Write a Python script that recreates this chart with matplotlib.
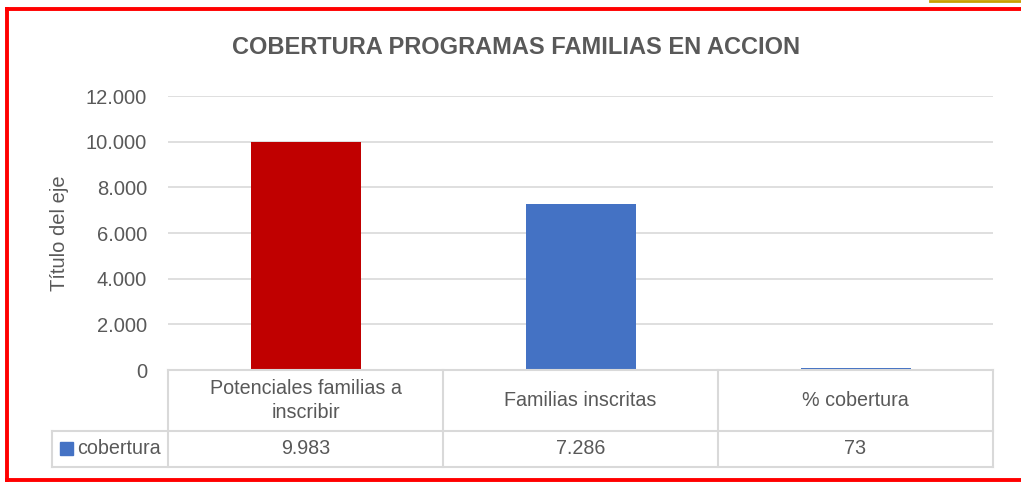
import matplotlib
matplotlib.use("Agg")
import matplotlib.pyplot as plt
from matplotlib.ticker import FuncFormatter
from matplotlib.lines import Line2D
from matplotlib.patches import Rectangle

# datos
categorias = ["Potenciales familias a\ninscribir", "Familias inscritas", "% cobertura"]
valores = [9983, 7286, 73]
etiquetas_valor = ["9.983", "7.286", "73"]
colores = ["#c00000", "#4472c4", "#4472c4"]
serie = "cobertura"
titulo = "COBERTURA PROGRAMAS FAMILIAS EN ACCION"

plt.rcParams["font.family"] = ["Liberation Sans", "DejaVu Sans"]

W, H = 1021, 487
fig = plt.figure(figsize=(W / 100, H / 100), dpi=100)
gris = "#595959"
linea = "#d9d9d9"

def fx(px):
    return px / W

def fy(py):
    return 1 - py / H

# area del grafico
x0, x1, ytop, ybot = 168, 993, 96, 370
ax = fig.add_axes([fx(x0), fy(ybot), fx(x1) - fx(x0), fy(ytop) - fy(ybot)])
pos = list(range(len(categorias)))
ax.bar(pos, valores, width=0.4, color=colores, zorder=3)
ax.set_xlim(-0.5, len(categorias) - 0.5)
ax.set_ylim(0, 12000)
ax.set_yticks(range(0, 12001, 2000))
ax.yaxis.set_major_formatter(FuncFormatter(lambda v, p: f"{int(v):,}".replace(",", ".")))
ax.tick_params(axis="y", length=0, pad=15, labelsize=14.5, labelcolor=gris)
ax.set_xticks([])
ax.grid(axis="y", color=linea, linewidth=1.2, zorder=0)
for s in ax.spines.values():
    s.set_visible(False)
ax.set_ylabel("Título del eje", fontsize=14.5, color=gris, labelpad=12)

fig.text(fx(516), fy(47), titulo, ha="center", va="center", fontsize=17,
         fontweight="bold", color=gris)

# tabla de datos
yh0, yh1, yv1 = 370, 431, 467
xl = 52
ancho = (x1 - x0) / len(categorias)
kw = dict(color=linea, linewidth=1.5, transform=fig.transFigure)
fig.add_artist(Line2D([fx(x0), fx(x1)], [fy(yh0), fy(yh0)], **kw))
fig.add_artist(Line2D([fx(xl), fx(x1)], [fy(yh1), fy(yh1)], **kw))
fig.add_artist(Line2D([fx(xl), fx(x1)], [fy(yv1), fy(yv1)], **kw))
fig.add_artist(Line2D([fx(xl), fx(xl)], [fy(yh1), fy(yv1)], **kw))
for i in range(len(categorias) + 1):
    xv = x0 + i * ancho
    fig.add_artist(Line2D([fx(xv), fx(xv)], [fy(yh0), fy(yv1)], **kw))
for i, (c, v) in enumerate(zip(categorias, etiquetas_valor)):
    xc = x0 + (i + 0.5) * ancho
    fig.text(fx(xc), fy((yh0 + yh1) / 2), c, ha="center", va="center",
             fontsize=14.2, color=gris, linespacing=1.35)
    fig.text(fx(xc), fy((yh1 + yv1) / 2), v, ha="center", va="center",
             fontsize=14.2, color=gris)
fig.add_artist(Rectangle((fx(60), fy(455)), fx(13), fy(442) - fy(455),
                         color=colores[1], transform=fig.transFigure))
fig.text(fx(77), fy((yh1 + yv1) / 2), serie, ha="left", va="center",
         fontsize=14.2, color=gris)

# borde rojo
kr = dict(color="#ff0000", linewidth=2.8, transform=fig.transFigure)
fig.add_artist(Line2D([fx(7), fx(W + 5)], [fy(9), fy(9)], **kr))
fig.add_artist(Line2D([fx(7), fx(7)], [fy(9), fy(480)], **kr))
fig.add_artist(Line2D([fx(7), fx(W + 5)], [fy(480), fy(480)], **kr))
fig.add_artist(Line2D([fx(930), fx(W)], [fy(1), fy(1)], color="#c8a000",
                      linewidth=2, transform=fig.transFigure))

fig.savefig("out.png", dpi=100)
